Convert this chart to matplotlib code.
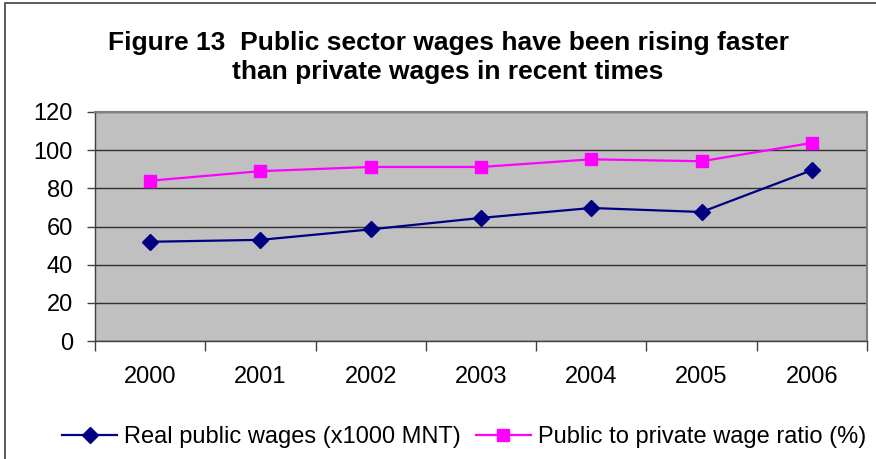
import matplotlib
matplotlib.use("Agg")
import matplotlib.pyplot as plt
from matplotlib.patches import Rectangle
import numpy as np

plt.rcParams['font.family'] = ['Liberation Sans', 'DejaVu Sans']

years = ["2000", "2001", "2002", "2003", "2004", "2005", "2006"]
real_wages = [52, 53, 58.5, 64.5, 69.7, 67.6, 89.5]
wage_ratio = [84, 89, 91.2, 91.2, 95.2, 94.2, 103.8]
y_ticks = [0, 20, 40, 60, 80, 100, 120]

W, H = 876, 459
fig = plt.figure(figsize=(W / 100, H / 100), dpi=100)

# outer chart frame
fig.patches.append(Rectangle((5 / W, -0.05), 1.2, (H - 3) / H + 0.05,
                             transform=fig.transFigure, fill=False,
                             edgecolor="#404040", linewidth=1.2))

left, right, top, bottom = 95, 867, 112, 341
ax = fig.add_axes([left / W, 1 - bottom / H, (right - left) / W, (bottom - top) / H])
ax.set_facecolor("#C0C0C0")

x = np.arange(len(years))
ax.plot(x, real_wages, color="#000080", marker="D", markersize=8.5, linewidth=1.6,
        label="Real public wages (x1000 MNT)")
ax.plot(x, wage_ratio, color="#FF00FF", marker="s", markersize=8.5, linewidth=1.6,
        label="Public to private wage ratio (%)")

ax.set_xlim(-0.5, len(years) - 0.5)
ax.set_ylim(0, 120)
ax.set_yticks(y_ticks)
ax.set_yticklabels([str(v) for v in y_ticks], fontsize=17)
ax.set_xticks(x)
ax.set_xticklabels(years, fontsize=17)
ax.tick_params(axis="x", length=0, pad=18)
ax.set_xticks(np.arange(len(years) + 1) - 0.5, minor=True)
ax.tick_params(axis="x", which="minor", length=7, width=1, color="#404040", direction="out")
ax.tick_params(axis="y", length=6, width=1, color="#404040", pad=10)
ax.grid(axis="y", color="#303030", linewidth=1)
ax.set_axisbelow(True)
for side in ["top", "right"]:
    ax.spines[side].set_color("#808080")
    ax.spines[side].set_linewidth(1.5)
for side in ["left", "bottom"]:
    ax.spines[side].set_color("#404040")
    ax.spines[side].set_linewidth(1)

title_x = 448 / W
fig.text(title_x, 1 - 43 / H, "Figure 13  Public sector wages have been rising faster",
         ha="center", va="center", fontsize=19, fontweight="bold")
fig.text(title_x, 1 - 72 / H, "than private wages in recent times",
         ha="center", va="center", fontsize=19, fontweight="bold")

fig.legend(loc="center", bbox_to_anchor=(464 / W, 1 - 437 / H), ncol=2, frameon=False,
           fontsize=17, handlelength=2.35, handletextpad=0.29, columnspacing=0.62,
           borderaxespad=0, borderpad=0)

fig.savefig("out.png", dpi=100)
